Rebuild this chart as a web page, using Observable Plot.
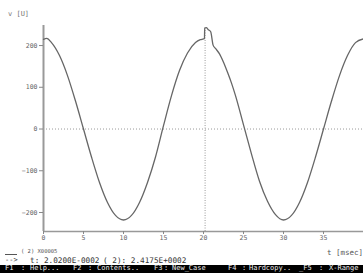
<!DOCTYPE html>
<html><head><meta charset="utf-8">
<script src="https://cdn.jsdelivr.net/npm/d3@7"></script>
<script src="https://cdn.jsdelivr.net/npm/@observablehq/plot@0.6"></script>
<style>
html,body{margin:0;padding:0;background:#fff;}
#wrap{position:relative;width:363px;height:273px;overflow:hidden;font-family:"DejaVu Sans Mono",monospace;}
#wrap svg{position:absolute;left:0;top:0;}
.t{position:absolute;white-space:pre;color:#555;line-height:1;}
#bar{position:absolute;left:0;top:265px;width:363px;height:8px;background:#000;}
#bar .t{color:#eee;top:0px;font-size:7px;}
</style></head><body><div id="wrap"></div>
<script>
// time in msec
const tMs = [0,0.4,1,2,3,4,5,6,7,8,9,10,11,12,13,14,15,16,17,18,19,19.6,20.0,20.12,20.15,20.35,20.6,20.9,21.2,21.5,22,22.5,23,23.5,24,25,26,27,28,29,30,31,32,33,34,35,36,37,38,39,40];
// voltage in U
const vU  = [215,217,207,176,128,67,0,-67,-128,-176,-207,-218,-207,-176,-128,-67,8,80,140,182,207,214,216,217,242,243,238,233,201,193,180,160,136,110,80,10,-60,-125,-173,-205,-218,-207,-176,-128,-67,0,67,128,176,207,216];
const xTicks = [0,5,10,15,20,25,30,35];
const yTicks = [-200,-100,0,100,200];
const xDomain = [0,40];
const yDomain = [-245.5,248];
const cursorT = [20.2];
const cursorV = [241.75];
const zeroLine = [0];

const data = tMs.map((t,i)=>({t, v:vU[i]}));

const chart = Plot.plot({
  width:363, height:245,
  marginLeft:43, marginRight:0, marginTop:25, marginBottom:14,
  style:{fontFamily:"DejaVu Sans Mono, monospace", fontSize:"6.5px", color:"#666", background:"transparent"},
  x:{domain:xDomain},
  y:{domain:yDomain},
  marks:[
    Plot.ruleY(zeroLine,{stroke:"#999", strokeWidth:1, strokeDasharray:"1,2"}),
    Plot.ruleX(cursorT,{y1:yDomain[0], y2:cursorV[0], stroke:"#999", strokeWidth:1, strokeDasharray:"1,1.5"}),
    Plot.ruleX([xDomain[0]],{stroke:"#999", strokeWidth:2}),
    Plot.ruleY([yDomain[0]],{stroke:"#999", strokeWidth:1.5}),
    Plot.axisY({ticks:yTicks, tickSize:4, tickPadding:2, label:null, stroke:"#888"}),
    Plot.axisX({ticks:xTicks, tickSize:3, tickPadding:1, label:null, stroke:"#888"}),
    Plot.line(data,{x:"t", y:"v", stroke:"#666", strokeWidth:1.3, curve:"monotone-x"})
  ]
});
const wrap = document.getElementById("wrap");
wrap.appendChild(chart);

function txt(s,x,y,size,color,parent){
  const d=document.createElement("div");
  d.className="t"; d.textContent=s;
  d.style.left=x+"px"; d.style.top=y+"px"; d.style.fontSize=size+"px";
  if(color) d.style.color=color;
  (parent||wrap).appendChild(d);
  return d;
}
txt("v [U]",8,11,7,"#777");
txt("t [msec]",327,249,7.5,"#555");
// legend lines
const ln=document.createElement("div");
ln.style.cssText="position:absolute;left:5px;top:254px;width:12px;height:0;border-top:1px solid #555;";
wrap.appendChild(ln);
txt("( 2) X00005",21,249,5.5,"#555");
txt("-->",5,257,7,"#333");
txt("t: 2.0200E-0002",30,257,7.7,"#333");
txt("( 2): 2.4175E+0002",103,257,7.7,"#333");
const bar=document.createElement("div"); bar.id="bar"; wrap.appendChild(bar);
[["F1",5],[":",21],["Help...",30],["F2",73],[":",88],["Contents..",97],["F3",154],[":",164],["New_Case",172],["F4",228],[":",242],["Hardcopy..",249],["_F5",299],[":",319],["X-Range",329]]
  .forEach(([s,x])=>txt(s,x,0,7,"#eee",bar));
</script></body></html>
